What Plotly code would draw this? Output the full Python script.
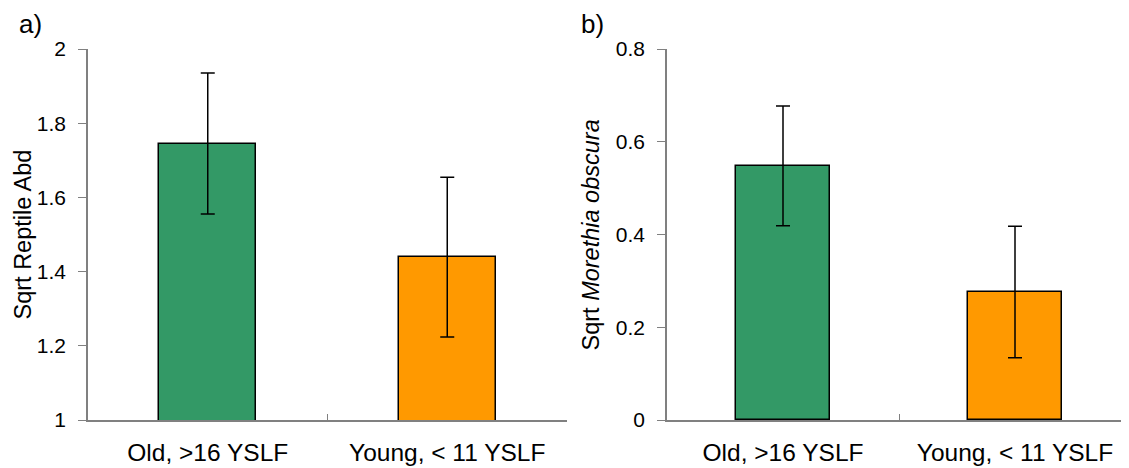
import plotly.graph_objects as go

categories = ["Old, >16 YSLF", "Young, < 11 YSLF"]
reptile_mean = [1.745, 1.439]
reptile_err = [0.19, 0.215]
morethia_mean = [0.548, 0.276]
morethia_err = [0.129, 0.142]
bar_colors = ["#339966", "#FF9900"]

W, H = 1129, 468
OFF = 8  # page body margin offset
FONT = "Liberation Sans, Arial, sans-serif"


def px_x(p):
    return (p - OFF) / W


def px_y(p):
    return (H - (p - OFF)) / H


fig = go.Figure()
fig.add_trace(go.Bar(
    x=categories, y=reptile_mean, xaxis="x", yaxis="y", width=0.405,
    marker=dict(color=bar_colors, line=dict(color="black", width=1.5)),
    error_y=dict(type="data", array=reptile_err, color="black", thickness=1.5, width=7),
    showlegend=False))
fig.add_trace(go.Bar(
    x=categories, y=morethia_mean, xaxis="x2", yaxis="y2", width=0.405,
    marker=dict(color=bar_colors, line=dict(color="black", width=1.5)),
    error_y=dict(type="data", array=morethia_err, color="black", thickness=1.5, width=7),
    showlegend=False))

ydom = [px_y(420), px_y(49)]
line_common = dict(showline=True, linecolor="#808080", linewidth=1.5, showgrid=False,
                   zeroline=False, automargin=False)
xfont = dict(size=24.5, color="black", family=FONT)
yfont = dict(size=21, color="black", family=FONT)

fig.update_layout(
    width=W, height=H, margin=dict(l=0, r=0, t=0, b=0, autoexpand=False),
    plot_bgcolor="white", paper_bgcolor="white", bargap=0,
    font=dict(family=FONT, color="black"),
    xaxis=dict(domain=[px_x(88), px_x(567)], anchor="y", tickson="boundaries", ticks="inside",
               ticklen=6, tickcolor="#808080", tickfont=xfont, ticklabelstandoff=10, **line_common),
    yaxis=dict(domain=ydom, anchor="x", range=[1, 2], dtick=0.2, ticks="outside",
               ticklen=8, tickcolor="#808080", tickfont=yfont, ticklabelstandoff=8, **line_common),
    xaxis2=dict(domain=[px_x(667), px_x(1131)], anchor="y2", tickson="boundaries", ticks="inside",
                ticklen=6, tickcolor="#808080", tickfont=xfont, ticklabelstandoff=10, **line_common),
    yaxis2=dict(domain=ydom, anchor="x2", range=[0, 0.8], dtick=0.2, ticks="outside",
                ticklen=8, tickcolor="#808080", tickfont=yfont, ticklabelstandoff=8, **line_common),
)

ymid = px_y(234.5)
ann = dict(xref="paper", yref="paper", showarrow=False, xanchor="center", yanchor="middle")
fig.add_annotation(text="Sqrt Reptile Abd", x=px_x(23), y=ymid, textangle=-90,
                   font=dict(size=23.5, family=FONT), **ann)
fig.add_annotation(text="Sqrt <i>Morethia obscura</i>", x=px_x(591), y=ymid, textangle=-90,
                   font=dict(size=23.5, family=FONT), **ann)
fig.add_annotation(text="a)", x=px_x(30), y=px_y(24), font=dict(size=26, family=FONT), **ann)
fig.add_annotation(text="b)", x=px_x(592.5), y=px_y(24), font=dict(size=26, family=FONT), **ann)

fig.write_html("out.html")
